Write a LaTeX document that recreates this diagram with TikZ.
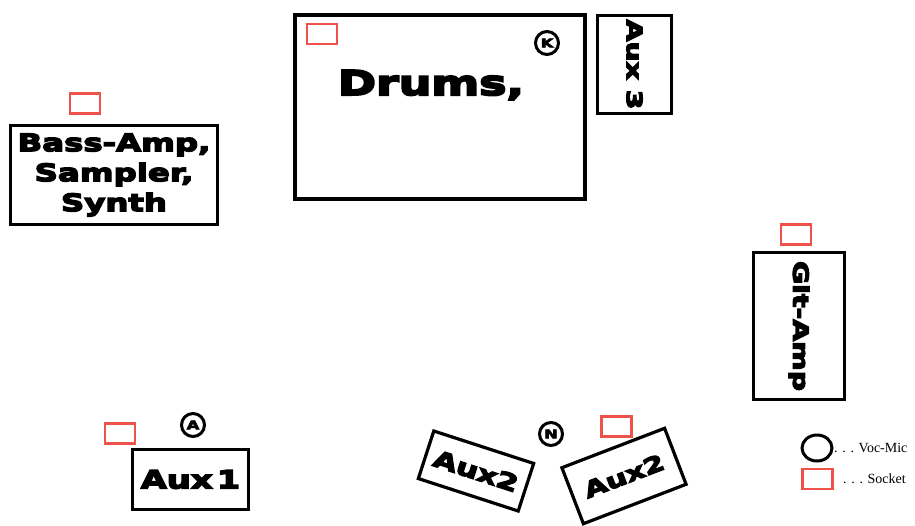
\documentclass[tikz,border=0pt]{standalone}
\usepackage{fontspec}
\usetikzlibrary{shapes.geometric}
\setmainfont{Liberation Serif}
\newfontfamily\blk{DejaVu Sans}[FakeStretch=1.35, BoldFeatures={FakeBold=6}]
\definecolor{sockred}{RGB}{238,82,72}
\tikzset{
  stagebox/.style={draw=black, line width=3.2pt, inner sep=0pt, align=center, font=\blk\bfseries},
  lbl/.style={font=\blk\bfseries, align=center, inner sep=0pt},
  sock/.style={draw=sockred, line width=2.8pt, minimum width=30pt, minimum height=20pt, inner sep=0pt},
  mic/.style={draw=black, circle, line width=3pt, minimum size=23pt, inner sep=0pt, font=\blk\bfseries\fontsize{12}{12}\selectfont},
  legtxt/.style={font=\fontsize{14}{14}\selectfont, anchor=west, inner sep=0pt}
}
\begin{document}
\begin{tikzpicture}[x=1pt,y=-1pt]
\useasboundingbox (0,0) rectangle (915,525);
% Drums
\node[stagebox, minimum width=290pt, minimum height=184pt] (drums) at (440,107) {};
\node[lbl, font=\blk\bfseries\fontsize{34}{34}\selectfont] (drumst) at (431,85) {Drums,};
\node[sock] (s1) at (322,34) {};
\node[mic] (k) at (547,43) {K};
% Aux 3
\node[stagebox, minimum width=74pt, minimum height=98pt, font=\blk\bfseries\fontsize{21}{21}\selectfont] (aux3) at (634.5,64.5) {\rotatebox{-90}{Aux 3}};
% Bass-Amp
\node[stagebox, minimum width=207pt, minimum height=99pt, font=\blk\bfseries\fontsize{24}{30}\selectfont] (bass) at (114,175) {Bass-Amp,\\Sampler,\\Synth};
\node[sock] (s2) at (85,103.5) {};
% Git-Amp
\node[stagebox, minimum width=91pt, minimum height=147pt, font=\blk\bfseries\fontsize{21}{21}\selectfont] (git) at (799,326) {\rotatebox{-90}{Git-Amp}};
\node[sock] (s3) at (796,234.5) {};
% Aux 1
\node[stagebox, minimum width=116pt, minimum height=60pt, font=\blk\bfseries\fontsize{25}{25}\selectfont] (aux1) at (190.5,479.5) {Aux\,1};
\node[sock] (s4) at (120,433.5) {};
\node[mic] (a) at (193,425) {A};
% Aux 2 left
\node[stagebox, minimum width=105pt, minimum height=50pt, rotate=-18, font=\blk\bfseries\fontsize{23}{23}\selectfont] (aux2l) at (476,471) {Aux2};
% Aux 2 right
\node[stagebox, minimum width=110pt, minimum height=60pt, rotate=21, font=\blk\bfseries\fontsize{22}{22}\selectfont] (aux2r) at (624,476) {Aux2};
\node[mic] (n) at (551,434) {N};
\node[sock] (s5) at (616.5,426.5) {};
% Legend
\node[draw=black, ellipse, line width=3pt, minimum width=30pt, minimum height=26pt, inner sep=0pt] (legmic) at (817,448) {};
\node[legtxt] (legmict) at (834,448) {. . . Voc-Mic};
\node[sock] (legsock) at (817.5,479) {};
\node[legtxt] (legsockt) at (843,479) {. . . Socket};
\end{tikzpicture}
\end{document}
